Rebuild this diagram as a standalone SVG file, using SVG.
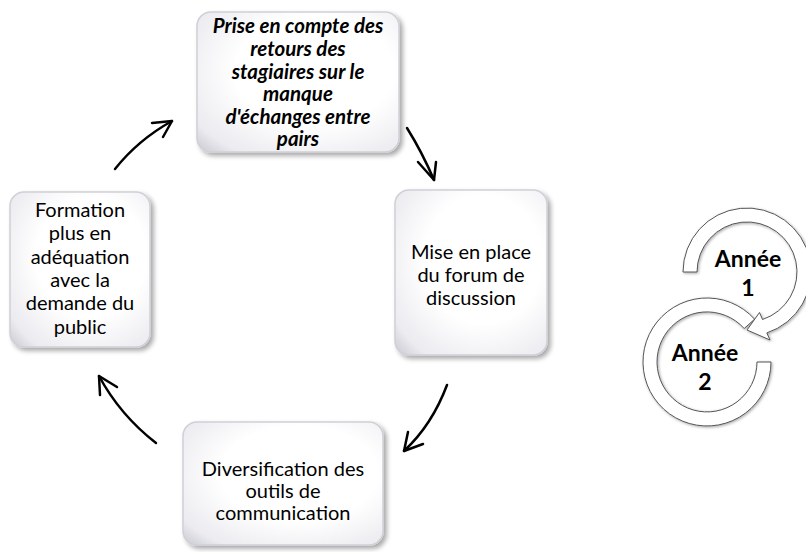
<svg xmlns="http://www.w3.org/2000/svg" width="806" height="552" viewBox="0 0 806 552">
<defs>
<radialGradient id="boxg" cx="0.58" cy="0.42" r="0.78">
<stop offset="0.5" stop-color="#ffffff"/>
<stop offset="0.88" stop-color="#ebebf0"/>
<stop offset="1" stop-color="#d2d2da"/>
</radialGradient>
<filter id="sh" x="-10%" y="-10%" width="125%" height="125%">
<feGaussianBlur in="SourceAlpha" stdDeviation="2.5"/>
<feOffset dx="3" dy="3" result="b"/>
<feComponentTransfer><feFuncA type="linear" slope="0.35"/></feComponentTransfer>
<feMerge><feMergeNode/><feMergeNode in="SourceGraphic"/></feMerge>
</filter>
<filter id="sh2" x="-10%" y="-10%" width="125%" height="125%">
<feGaussianBlur in="SourceAlpha" stdDeviation="1.5"/>
<feOffset dx="1" dy="1" result="b"/>
<feComponentTransfer><feFuncA type="linear" slope="0.35"/></feComponentTransfer>
<feMerge><feMergeNode/><feMergeNode in="SourceGraphic"/></feMerge>
</filter>
</defs>
<style>
.box{fill:url(#boxg);stroke:#d0d0d6;stroke-width:1.5;filter:url(#sh)}
.t{font-family:Lato,"Liberation Sans",sans-serif;font-size:20px;fill:#000;text-anchor:middle}
.tb{font-family:Lato,"Liberation Sans",sans-serif;font-size:20.5px;font-weight:bold;font-style:italic;fill:#000;text-anchor:middle}
.yr{font-family:Lato,"Liberation Sans",sans-serif;font-size:23px;font-weight:bold;fill:#000;text-anchor:middle}
.arr{fill:none;stroke:#000;stroke-width:2.5;stroke-linecap:round;stroke-linejoin:round}
.ring{fill:#fff;stroke:#555;stroke-width:1;filter:url(#sh2)}
</style>
<g id="node-top">
<rect class="box" x="197" y="12" width="202" height="140" rx="14"/>
<text class="tb" x="298" y="33">Prise en compte des</text>
<text class="tb" x="298" y="56">retours des</text>
<text class="tb" x="298" y="79">stagiaires sur le</text>
<text class="tb" x="298" y="101">manque</text>
<text class="tb" x="298" y="124">d'échanges entre</text>
<text class="tb" x="298" y="146">pairs</text>
</g>
<g id="node-right">
<rect class="box" x="395" y="190" width="152" height="165" rx="14"/>
<text class="t" x="471" y="259">Mise en place</text>
<text class="t" x="471" y="282">du forum de</text>
<text class="t" x="471" y="305">discussion</text>
</g>
<g id="node-bottom">
<rect class="box" x="183" y="422" width="200" height="123" rx="14"/>
<text class="t" x="283" y="476">Diversification des</text>
<text class="t" x="283" y="498">outils de</text>
<text class="t" x="283" y="520">communication</text>
</g>
<g id="node-left">
<rect class="box" x="10" y="192" width="140" height="155" rx="14"/>
<text class="t" x="80" y="217">Formation</text>
<text class="t" x="80" y="240">plus en</text>
<text class="t" x="80" y="264">adéquation</text>
<text class="t" x="80" y="287">avec la</text>
<text class="t" x="80" y="310">demande du</text>
<text class="t" x="80" y="334">public</text>
</g>
<g id="connectors">
<path class="arr" d="M115,169 Q138,140 172,121"/>
<path class="arr" d="M152,123 L172,121 L163,137"/>
<path class="arr" d="M407,128 Q422,152 434,180"/>
<path class="arr" d="M418,162 L434,180 L436,162"/>
<path class="arr" d="M447,385 Q432,425 404,451"/>
<path class="arr" d="M408,432 L404,451 L423,444"/>
<path class="arr" d="M156,443 Q120,415 99,376"/>
<path class="arr" d="M100,395 L99,376 L117,387"/>
</g>
<g id="node-years">
<path class="ring" d="M771,362 A64,64 0 1 1 754.6,319.2 L744.2,328.5 A50,50 0 1 0 757,362 Z"/>
<path class="ring" d="M683,272 A64,64 0 1 1 766.8,332.9 L770,340 L747,330 L759.5,312.5 L762.5,319.5 A50,50 0 1 0 697,272 Z"/>
<text class="yr" x="748" y="267">Année</text>
<text class="yr" x="748" y="296">1</text>
<text class="yr" x="705" y="361">Année</text>
<text class="yr" x="705" y="390">2</text>
</g>
</svg>
